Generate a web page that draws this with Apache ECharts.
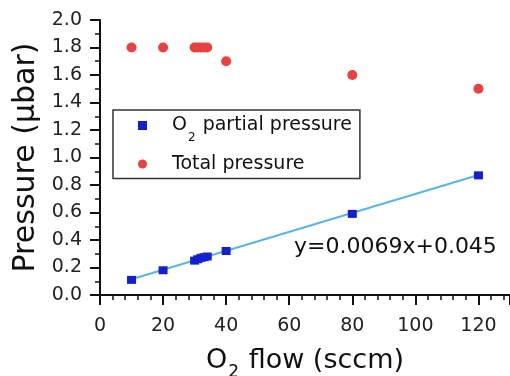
<!DOCTYPE html>
<html>
<head>
<meta charset="utf-8">
<script src="https://cdn.jsdelivr.net/npm/echarts@6/dist/echarts.min.js"></script>
<style>
  html, body { margin: 0; padding: 0; background: #fff; }
  #chart { width: 510px; height: 376px; }
</style>
</head>
<body>
<div id="chart"></div>
<script>
// O2 flow (sccm) for each measurement
const flow = [10, 20, 30, 31, 32, 33, 34, 40, 80, 120];
// O2 partial pressure (µbar)
const o2Partial = [0.11, 0.18, 0.25, 0.26, 0.27, 0.275, 0.28, 0.32, 0.59, 0.87];
// total pressure (µbar)
const totalPressure = [1.8, 1.8, 1.8, 1.8, 1.8, 1.8, 1.8, 1.7, 1.6, 1.5];
// ends of the fitted line y=0.0069x+0.045
const fitX = [10, 120];
const fitY = [0.114, 0.873];
const fitLabel = 'y=0.0069x+0.045';

const FONT = 'DejaVu Sans';

function pairs(xs, ys) {
  return xs.map(function (x, i) { return [x, ys[i]]; });
}

const chart = echarts.init(document.getElementById('chart'), null, { renderer: 'canvas' });

const option = {
  animation: false,
  backgroundColor: '#fff',
  textStyle: { fontFamily: FONT },
  grid: { left: 100, right: 0, top: 20, bottom: 81, outerBoundsMode: 'none' },
  legend: {
    orient: 'vertical',
    left: 113,
    top: 110,
    padding: [6, 8, 5, 25],
    itemGap: 11,
    itemWidth: 9,
    itemHeight: 9,
    borderColor: '#333',
    borderWidth: 1.5,
    data: ['O2 partial pressure', 'Total pressure'],
    formatter: function (name) {
      if (name === 'O2 partial pressure') {
        return '{n|O}{s|2}{n| partial pressure}';
      }
      return '{n|' + name + '}';
    },
    textStyle: {
      padding: [0, 0, 0, 20],
      rich: {
        n: { fontSize: 19, fontFamily: FONT, color: '#111', lineHeight: 22 },
        s: { fontSize: 12, fontFamily: FONT, color: '#111', verticalAlign: 'bottom', lineHeight: 22, padding: [0, 1, -7, 1] }
      }
    }
  },
  xAxis: {
    type: 'value',
    min: 0,
    max: 130,
    interval: 20,
    name: '{n|O}{s|2}{n| flow (sccm)}',
    nameLocation: 'middle',
    nameGap: 51,
    nameTextStyle: {
      rich: {
        n: { fontSize: 27, fontFamily: FONT, color: '#111', lineHeight: 30 },
        s: { fontSize: 17, fontFamily: FONT, color: '#111', verticalAlign: 'bottom', padding: [0, 1, -5, 1] }
      }
    },
    axisLine: { lineStyle: { color: '#111', width: 2 } },
    axisTick: { show: true, inside: false, length: 10, lineStyle: { color: '#111', width: 2 } },
    minorTick: { show: true, splitNumber: 5, length: 5, lineStyle: { color: '#111', width: 1.5 } },
    splitLine: { show: false },
    axisLabel: {
      margin: 22,
      fontSize: 19,
      fontFamily: FONT,
      color: '#222',
      formatter: function (v) { return v % 20 === 0 ? String(v) : ''; }
    }
  },
  yAxis: {
    type: 'value',
    min: 0,
    max: 2.0,
    interval: 0.2,
    name: 'Pressure (μbar)',
    nameLocation: 'middle',
    nameGap: 58,
    nameTextStyle: { fontSize: 30, fontFamily: FONT, color: '#111' },
    axisLine: { show: true, lineStyle: { color: '#111', width: 2 } },
    axisTick: { show: true, inside: false, length: 10, lineStyle: { color: '#111', width: 2 } },
    minorTick: { show: true, splitNumber: 2, length: 5, lineStyle: { color: '#111', width: 1.5 } },
    splitLine: { show: false },
    axisLabel: {
      margin: 18,
      fontSize: 19,
      fontFamily: FONT,
      color: '#222',
      formatter: function (v) { return v.toFixed(1); }
    }
  },
  graphic: [{
    type: 'text',
    left: 294,
    top: 236,
    style: { text: fitLabel, fontSize: 22, fontFamily: FONT, fill: '#111' }
  }],
  series: [
    {
      name: 'fit',
      type: 'line',
      data: pairs(fitX, fitY),
      showSymbol: false,
      lineStyle: { color: '#5ab4e6', width: 2 },
      z: 1
    },
    {
      name: 'O2 partial pressure',
      type: 'scatter',
      symbol: 'rect',
      symbolSize: [9, 8],
      data: pairs(flow, o2Partial),
      itemStyle: { color: '#1420d0', opacity: 1 },
      z: 3
    },
    {
      name: 'Total pressure',
      type: 'scatter',
      symbol: 'circle',
      symbolSize: 10,
      data: pairs(flow, totalPressure),
      itemStyle: { color: '#e8413f', opacity: 1 },
      z: 3
    }
  ]
};

chart.setOption(option);
</script>
</body>
</html>
